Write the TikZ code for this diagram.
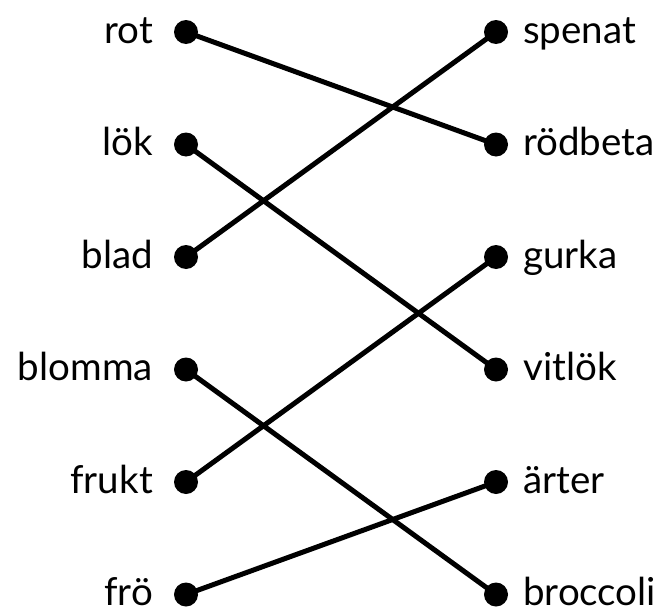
\documentclass[tikz,border=0pt]{standalone}
\usepackage{fontspec}
\setmainfont{Lato}
\begin{document}
\begin{tikzpicture}[x=1pt,y=-1pt,
  dot/.style={circle,fill=black,inner sep=0pt,minimum size=24pt},
  lbl/.style={font=\fontsize{38.5}{40}\selectfont,inner sep=0pt},
  link/.style={line width=5pt,line cap=round}]
\useasboundingbox (0,0) rectangle (659,613);
\foreach \i/\t/\y in {1/rot/32,2/lök/144.5,3/blad/257,4/blomma/369.5,5/frukt/482,6/frö/594.5}{
  \node[dot] (L\i) at (186,\y) {};
  \node[lbl,anchor=base east] (LT\i) at (153,\y+11) {\t};
}
\foreach \i/\t/\y in {1/spenat/32,2/rödbeta/144.5,3/gurka/257,4/vitlök/369.5,5/ärter/482,6/broccoli/594.5}{
  \node[dot] (R\i) at (496,\y) {};
  \node[lbl,anchor=base west] (RT\i) at (523,\y+11) {\t};
}
\draw[link] (L1.center) -- (R2.center);
\draw[link] (L2.center) -- (R4.center);
\draw[link] (L3.center) -- (R1.center);
\draw[link] (L4.center) -- (R6.center);
\draw[link] (L5.center) -- (R3.center);
\draw[link] (L6.center) -- (R5.center);
\end{tikzpicture}
\end{document}
